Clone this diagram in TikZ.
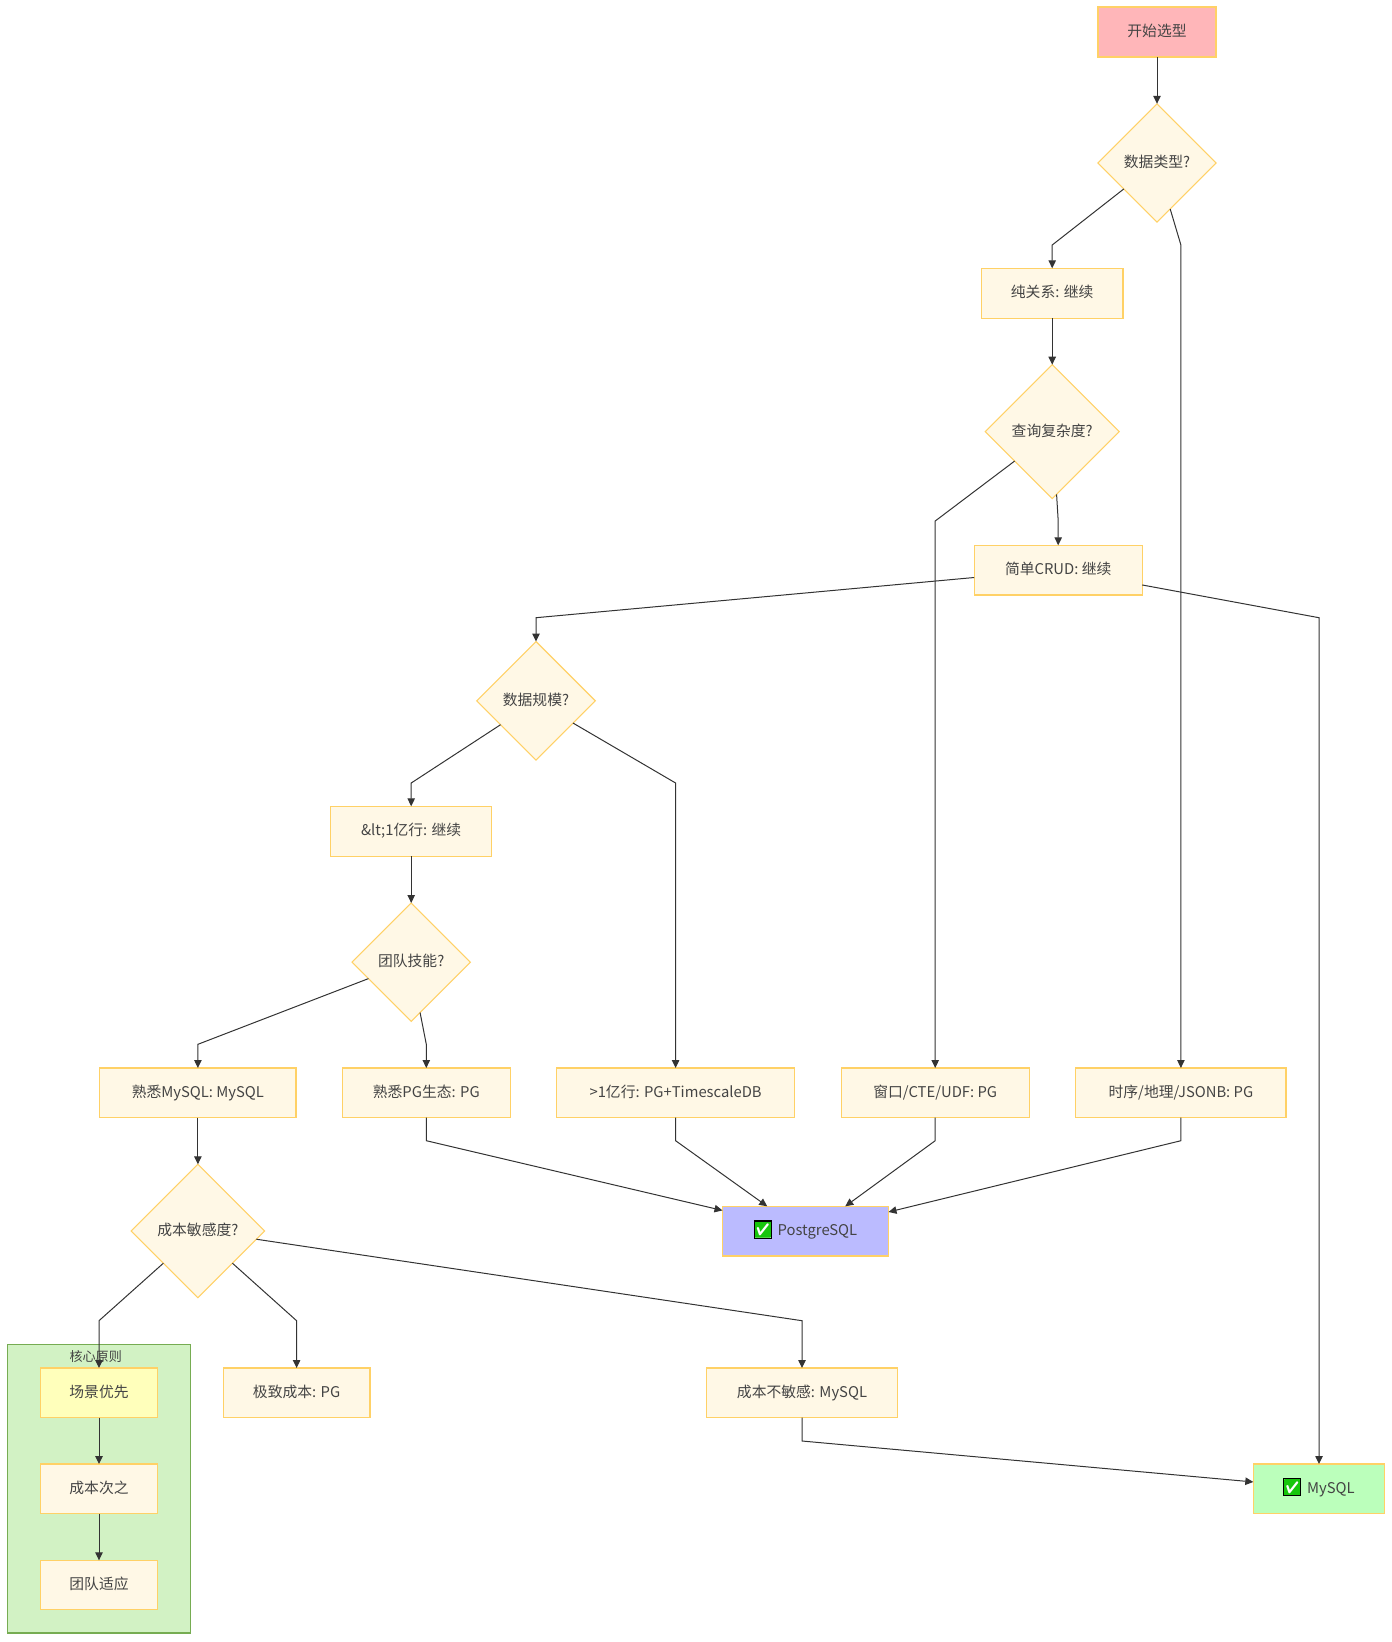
\documentclass[tikz,border=0pt]{standalone}
\usepackage{fontspec}
\setmainfont{Noto Sans CJK SC}
\newfontfamily\emojifont{Noto Emoji}
\usetikzlibrary{arrows.meta,shapes.geometric}
\definecolor{amberfill}{HTML}{FFF8E6}
\definecolor{amberline}{HTML}{FFD166}
\definecolor{inkline}{HTML}{333333}
\definecolor{inktext}{HTML}{444444}
\definecolor{clusterfill}{HTML}{D2F2C4}
\definecolor{clusterline}{HTML}{76AC52}
\definecolor{tickgreen}{HTML}{16C60C}
\definecolor{startfill}{HTML}{FFB6B9}
\definecolor{pgfill}{HTML}{BBBBFF}
\definecolor{myfill}{HTML}{BBFFBB}
\definecolor{firstfill}{HTML}{FFFFBB}
\newcommand{\okmark}{{\setlength{\fboxsep}{0pt}\setlength{\fboxrule}{0.8pt}\raisebox{4.6pt}{\fcolorbox{black}{white}{\raisebox{-4.7pt}[6pt][6pt]{\makebox[12pt][c]{\emojifont\fontsize{12.4pt}{14pt}\selectfont\color{tickgreen}✅}}}}}}
\tikzset{
  x=0.75pt,y=-0.75pt,
  every node/.style={text=inktext,font=\fontsize{11.1pt}{13pt}\selectfont,inner sep=0pt,outer sep=0pt,text height=9.3pt,text depth=2.5pt},
  box/.style 2 args={draw=amberline,line width=0.9pt,fill=amberfill,rectangle,minimum width=#1*0.75pt,minimum height=#2*0.75pt},
  dec/.style={draw=amberline,line width=0.8pt,fill=amberfill,diamond,aspect=1,minimum width=#1*0.75pt,minimum height=#1*0.75pt},
  edge/.style={draw=inkline,line width=0.75pt,-{Triangle[length=6pt,width=5.6pt]},line join=miter},
}
\begin{document}
\begin{tikzpicture}
\useasboundingbox (0,0) rectangle (1392,1642);
% cluster
\node[draw=clusterline,line width=1pt,fill=clusterfill,rectangle,minimum width=183.4*0.75pt,minimum height=288.7*0.75pt] (cluster) at (99,1488.65) {};
\node[font=\fontsize{9.8pt}{12pt}\selectfont] (clusterlabel) at (95.7,1357) {核心原则};
% nodes
\node[box={118}{50},fill=startfill] (start) at (1157,32) {开始选型};
\node[dec=118.4] (d1) at (1157,163) {数据类型?};
\node[box={141.7}{50}] (pure) at (1052.2,293.3) {纯关系: 继续};
\node[dec=134] (d2) at (1052.2,431.7) {查询复杂度?};
\node[box={168}{49.7}] (crud) at (1058.2,570.15) {简单CRUD: 继续};
\node[dec=118.6] (d3) at (536,700.8) {数据规模?};
\node[box={161}{50}] (lt) at (411.2,831.3) {\&lt;1亿行: 继续};
\node[dec=118.4] (d4) at (411.2,962.2) {团队技能?};
\node[box={196.2}{49.7}] (fmy) at (197.9,1092.85) {熟悉MySQL: MySQL};
\node[box={167.6}{49.7}] (fpg) at (426.3,1092.85) {熟悉PG生态: PG};
\node[box={238}{49.7}] (gt) at (675.6,1092.85) {>1亿行: PG+TimescaleDB};
\node[box={188}{49.7}] (win) at (935.2,1092.85) {窗口/CTE/UDF: PG};
\node[box={210.3}{49.7}] (ts) at (1180.9,1092.85) {时序/地理/JSONB: PG};
\node[box={166}{49.7},fill=pgfill] (pg) at (805.5,1231.15) {\okmark\hspace{1.8pt} PostgreSQL};
\node[box={131.4}{49.7},fill=myfill] (my) at (1319,1488.85) {\okmark\hspace{1.8pt} MySQL};
\node[dec=133.4] (d5) at (197.9,1231) {成本敏感度?};
\node[box={117.7}{49.7},fill=firstfill] (p1) at (99,1392.85) {场景优先};
\node[box={117.7}{49.7}] (p2) at (99,1488.85) {成本次之};
\node[box={117.7}{49.4}] (p3) at (99,1585) {团队适应};
\node[box={146.8}{49.7}] (ext) at (296.6,1392.85) {极致成本: PG};
\node[box={191.6}{49.7}] (ins) at (802,1392.85) {成本不敏感: MySQL};
% bends
\coordinate (b1) at (pure.north |- 0,245);
\coordinate (b2) at (ts.north |- 0,245);
\coordinate (b3) at (win.north |- 0,521);
\coordinate (b4) at (crud.north |- 0,521);
\coordinate (b5) at (d3.north |- 0,617.7);
\coordinate (b6) at (my.north |- 0,617.7);
\coordinate (b7) at (lt.north |- 0,783);
\coordinate (b8) at (gt.north |- 0,783);
\coordinate (b9) at (fmy.north |- 0,1044.3);
\coordinate (b10) at (fpg.north |- 0,1044.3);
\coordinate (b11) at (fpg.south |- 0,1140.7);
\coordinate (b12) at (gt.south |- 0,1140.7);
\coordinate (b13) at (win.south |- 0,1140.7);
\coordinate (b14) at (ts.south |- 0,1140.7);
\coordinate (b15) at (p1.north |- 0,1320.7);
\coordinate (b16) at (ext.north |- 0,1320.7);
\coordinate (b17) at (ins.north |- 0,1320.7);
\coordinate (b18) at (ins.south |- 0,1441);
% edges
\draw[edge] (start) -- (d1);
\draw[edge] (d1.-142.3) -- (b1) -- (pure);
\draw[edge] (d1.-74.3) -- (b2) -- (ts);
\draw[edge] (pure) -- (d2);
\draw[edge] (d2.-142.9) -- (b3) -- (win);
\draw[edge] (d2.-86.6) -- (b4) -- (crud);
\draw[edge] (crud.185.1) -- (b5) -- (d3);
\draw[edge] (crud.-10.4) -- (b6) -- (my);
\draw[edge] (d3.-146.9) -- (b7) -- (lt);
\draw[edge] (d3.-31.1) -- (b8) -- (gt);
\draw[edge] (lt) -- (d4);
\draw[edge] (d4.-159.3) -- (b9) -- (fmy);
\draw[edge] (d4.-80) -- (b10) -- (fpg);
\draw[edge] (fmy) -- (d5);
\draw[edge] (fpg.south) -- (b11) -- (pg.166.2);
\draw[edge] (gt.south) -- (b12) -- (pg.147.8);
\draw[edge] (win.south) -- (b13) -- (pg.32.4);
\draw[edge] (ts.south) -- (b14) -- (pg.13.8);
\draw[edge] (d5.-137.8) -- (b15) -- (p1);
\draw[edge] (d5.-43) -- (b16) -- (ext);
\draw[edge] (d5.-8.7) -- (b17) -- (ins);
\draw[edge] (ins.south) -- (b18) -- (my.174.3);
\draw[edge] (p1) -- (p2);
\draw[edge] (p2) -- (p3);
\end{tikzpicture}
\end{document}
